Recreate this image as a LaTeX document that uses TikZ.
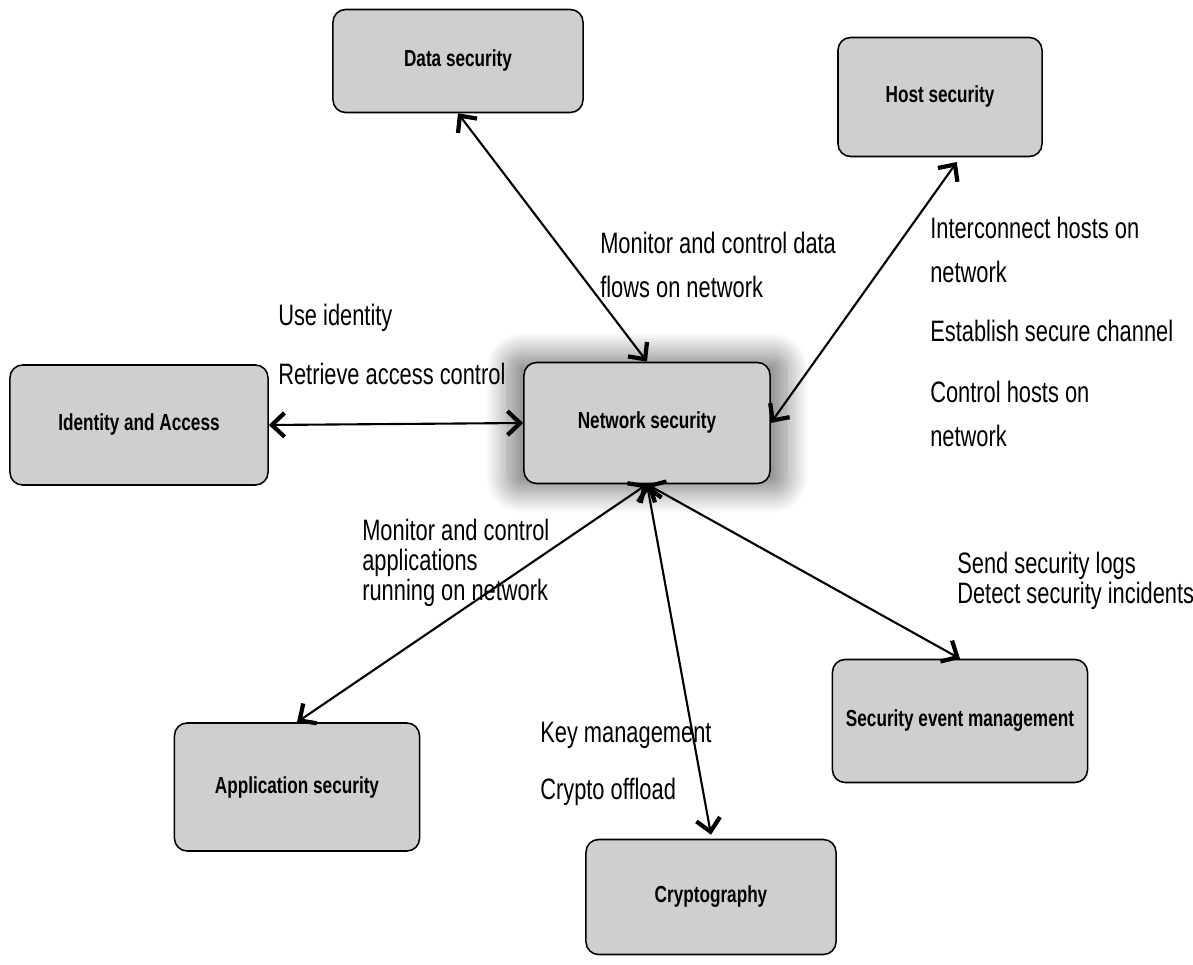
\documentclass[tikz,border=0pt]{standalone}
\usepackage{fontspec}
\setmainfont{Liberation Sans}[FakeStretch=0.74]
\usetikzlibrary{arrows.meta,shadows.blur}
\begin{document}
\begin{tikzpicture}[x=0.025cm, y=-0.025cm,
    box/.style={draw, line width=1.1pt, rounded corners=9pt, fill=black!19,
      font=\fontsize{16.5}{19}\selectfont\bfseries, align=center},
    lbl/.style={anchor=west, font=\fontsize{21}{21.2}\selectfont, inner sep=0pt, align=left},
    link/.style={line width=1.5pt, {Straight Barb[length=9pt,width=17pt,line width=3pt]}-{Straight Barb[length=9pt,width=17pt,line width=3pt]}}]
  \useasboundingbox (0,0) rectangle (1193,965);
  % boxes
  \node[box, minimum width=6.25cm, minimum height=2.575cm] (data) at (458,61) {Data security};
  \node[box, minimum width=5.1cm, minimum height=2.975cm] (host) at (940,97) {Host security};
  \node[box, minimum width=6.45cm, minimum height=3.0cm] (ident) at (139,425) {Identity and Access};
  \node[box, minimum width=6.15cm, minimum height=3.025cm,
    blur shadow={shadow xshift=0pt, shadow yshift=0pt, shadow scale=1.13,
      shadow blur radius=14pt, shadow blur steps=25, shadow opacity=50}] (net) at (647,423) {Network security};
  \node[box, minimum width=6.375cm, minimum height=3.075cm] (sem) at (960,721) {Security event management};
  \node[box, minimum width=6.125cm, minimum height=3.2cm] (app) at (297,787) {Application security};
  \node[box, minimum width=6.25cm, minimum height=2.875cm] (crypto) at (711,897) {Cryptography};
  % links
  \draw[link] (data.south) -- (net.north);
  \draw[link] ([xshift=0.42cm, yshift=-0.12cm]host.south) -- (net.east);
  \draw[link] (ident.east) -- (net.west);
  \draw[link] (net.south) -- (app.north);
  \draw[link] (net.south) -- ([yshift=0.1cm]crypto.north);
  \draw[link] (net.south) -- (sem.north);
  % labels
  \node[lbl] (ldata1) at (600,243) {Monitor and control data};
  \node[lbl] (ldata2) at (600,287) {flows on network};
  \node[lbl] (lid1) at (278,318) {Use identity};
  \node[lbl] (lid2) at (278,374) {Retrieve access control};
  \node[lbl] (lhost1) at (930,228) {Interconnect hosts on};
  \node[lbl] (lhost2) at (930,272) {network};
  \node[lbl] (lhost3) at (930,331) {Establish secure channel};
  \node[lbl] (lhost4) at (930,392) {Control hosts on};
  \node[lbl] (lhost5) at (930,436) {network};
  \node[lbl] (lsem) at (957,581) {Send security logs\\Detect security incidents};
  \node[lbl] (lapp) at (362,563) {Monitor and control\\applications\\running on network};
  \node[lbl] (lcry1) at (540,735) {Key management};
  \node[lbl] (lcry2) at (540,792) {Crypto offload};
\end{tikzpicture}
\end{document}
